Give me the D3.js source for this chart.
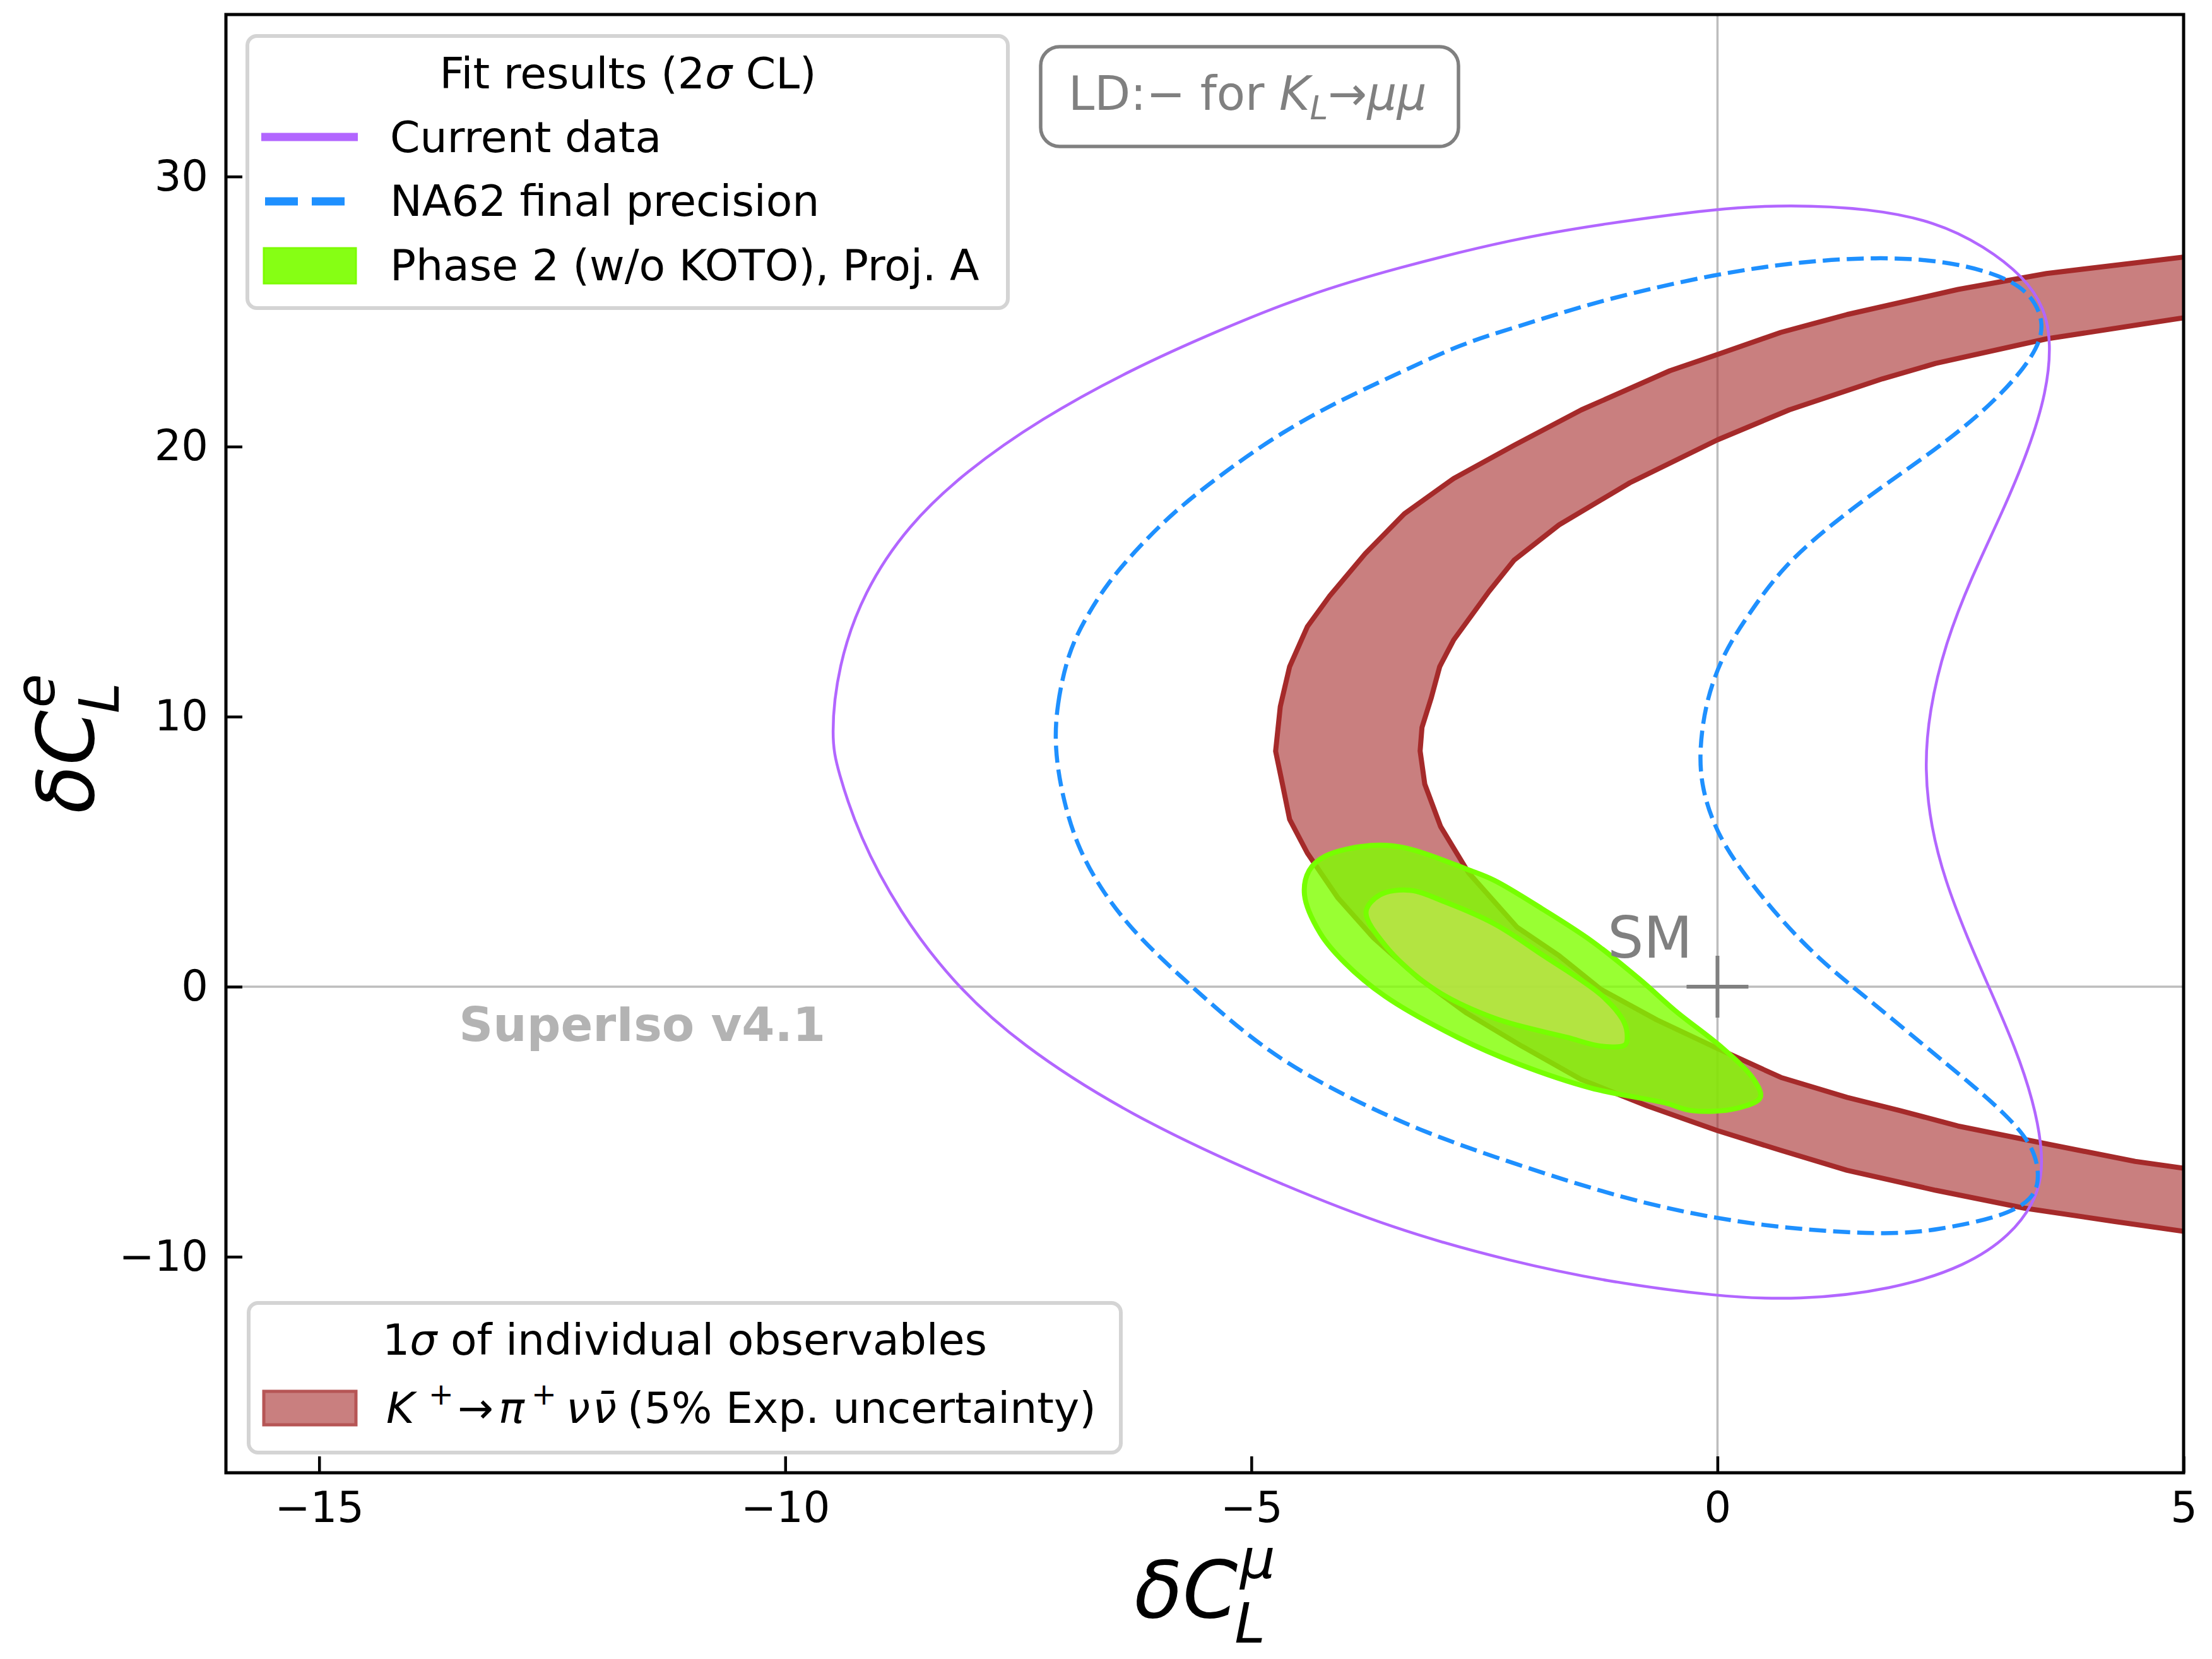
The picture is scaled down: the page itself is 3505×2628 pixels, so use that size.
<!DOCTYPE html>
<html>
<head>
<meta charset="utf-8">
<script src="https://cdnjs.cloudflare.com/ajax/libs/d3/7.8.5/d3.min.js"></script>
<style>
  body { margin: 0; background: #fff; }
  svg { display: block; }
  text { font-family: "DejaVu Sans", sans-serif; }
</style>
</head>
<body>
<div id="chart"></div>
<script>
// axis ticks
const xTicks = [-15, -10, -5, 0, 5];
const yTicks = [-10, 0, 10, 20, 30];

// 2 sigma contour, current data  [dC_mu, dC_e]
const currentData = [
  [-9.51, 9.2], [-9.44, 11.85], [-9.16, 14.64], [-8.68, 17.1], [-8.07, 19.07], [-7.26, 21.03],
  [-6.30, 22.84], [-5.35, 24.31], [-4.40, 25.63], [-3.45, 26.61], [-2.18, 27.7], [-1.22, 28.25],
  [0, 28.82], [0.77, 28.96], [1.63, 28.82], [2.34, 28.33], [2.86, 27.43], [3.29, 26.28],
  [3.51, 25.13], [3.58, 23.82], [3.53, 22.02], [3.34, 19.89], [3.06, 17.59], [2.72, 15.13],
  [2.44, 12.67], [2.27, 10.21], [2.22, 8.04], [2.29, 5.91], [2.44, 3.94], [2.68, 1.81],
  [2.91, 0.0], [3.20, -2.29], [3.39, -4.26], [3.48, -5.90], [3.48, -7.05], [3.39, -8.03],
  [3.15, -9.18], [2.68, -10.33], [1.87, -11.23], [0.87, -11.61], [0, -11.48], [-1.22, -10.9],
  [-2.18, -10.2], [-3.45, -9.02], [-4.88, -7.05], [-6.31, -4.75], [-7.49, -2.13], [-8.21, 0.17],
  [-8.78, 2.79], [-9.21, 5.58], [-9.44, 8.04]
];

// 2 sigma contour, NA62 final precision
const na62Final = [
  [-7.11, 8.9], [-7.09, 10.37], [-6.97, 12.34], [-6.78, 13.65], [-6.54, 14.97], [-6.21, 16.28],
  [-5.83, 17.59], [-5.35, 18.90], [-4.78, 20.30], [-4.16, 21.53], [-3.45, 22.67], [-2.74, 23.82],
  [-2.18, 24.40], [-1.22, 25.46], [0, 26.41], [0.91, 26.86], [1.72, 27.02], [2.39, 26.9],
  [2.96, 26.45], [3.34, 25.79], [3.51, 24.64], [3.44, 23.66], [3.20, 22.51], [2.82, 21.20],
  [2.34, 19.89], [1.72, 18.41], [1.15, 16.93], [0.68, 15.46], [0.34, 13.82], [0.06, 12.34],
  [-0.13, 10.54], [-0.20, 8.57], [-0.16, 7.3], [-0.06, 6.2], [0.08, 5.2], [0.30, 4.10],
  [0.68, 2.46], [1.15, 0.82], [1.63, -0.49], [2.20, -2.13], [2.72, -3.60], [3.10, -4.75],
  [3.39, -5.90], [3.46, -7.05], [3.39, -7.87], [3.06, -8.52], [2.34, -9.02], [1.87, -9.18],
  [0.92, -9.02], [0, -8.61], [-0.99, -7.87], [-2.18, -6.56], [-3.21, -5.33], [-4.16, -3.77],
  [-4.88, -2.29], [-5.59, -0.16], [-6.21, 1.81], [-6.59, 3.45], [-6.88, 5.25], [-7.04, 7.22]
];

// K+ -> pi+ nu nubar 1 sigma band, outer edge then inner edge
const kpBandOuter = [
  [5, 27.02], [3.53, 26.41], [2.58, 25.82], [1.39, 24.89], [0.68, 24.23], [0, 23.41],
  [-0.51, 22.81], [-1.46, 21.36], [-2.18, 20.05], [-2.83, 18.82], [-3.36, 17.51], [-3.78, 16.03],
  [-4.16, 14.47], [-4.40, 13.33], [-4.59, 11.85], [-4.69, 10.37], [-4.74, 8.72], [-4.67, 7.56],
  [-4.59, 6.2], [-4.40, 4.95], [-4.07, 3.28], [-3.69, 1.81], [-3.21, 0.33], [-2.69, -0.98],
  [-2.1, -2.2], [-1.46, -3.44], [-0.75, -4.42], [0, -5.33], [0.68, -6.06], [1.39, -6.80],
  [2.34, -7.54], [3.29, -8.20], [4.25, -8.69], [5, -9.06]
];
const kpBandInner = [
  [5, 24.77], [3.53, 23.99], [2.34, 23.08], [1.77, 22.51], [0.77, 21.36], [0, 20.25],
  [-0.94, 18.66], [-1.70, 17.10], [-2.18, 15.8], [-2.45, 14.64], [-2.83, 12.84], [-2.98, 11.85],
  [-3.07, 10.70], [-3.17, 9.6], [-3.19, 8.73], [-3.14, 7.5], [-2.97, 5.93], [-2.67, 4.22],
  [-2.15, 2.2], [-1.70, 1.15], [-1.25, -0.1], [-0.65, -1.23], [0, -2.29], [0.68, -3.36],
  [1.39, -4.10], [1.96, -4.59], [2.58, -5.16], [3.53, -5.82], [4.48, -6.47], [5, -6.72]
];

// Phase 2 (w/o KOTO), Proj. A: outer and inner regions
const phase2Outer = [
  [-4.43, 3.4], [-4.38, 4.3], [-4.21, 4.83], [-3.72, 5.23], [-3.35, 5.14], [-2.65, 4.3],
  [-2.39, 3.93], [-1.87, 2.86], [-1.35, 1.69], [-0.83, 0.26], [-0.45, -0.9], [0.06, -2.29],
  [0.39, -3.44], [0.46, -4.10], [0.20, -4.51], [-0.27, -4.59], [-0.57, -4.3], [-1.35, -3.76],
  [-2.13, -2.87], [-2.78, -1.89], [-3.56, -0.37], [-4.0, 0.89], [-4.26, 1.97]
];
const phase2Inner = [
  [-3.77, 2.77], [-3.62, 3.40], [-3.30, 3.57], [-2.91, 3.12], [-2.39, 2.32], [-1.87, 1.16],
  [-1.25, -0.3], [-1.02, -1.2], [-0.97, -1.71], [-0.99, -2.15], [-1.25, -2.2], [-1.61, -1.88],
  [-2.39, -1.17], [-3.04, -0.09], [-3.56, 1.51]
];

const W = 3505, H = 2628;
const margin = { left: 358, right: 3460, top: 23, bottom: 2333 };

const svg = d3.select("#chart").append("svg")
  .attr("width", W).attr("height", H)
  .attr("viewBox", `0 0 ${W} ${H}`);

const x = d3.scaleLinear().domain([-16, 5]).range([margin.left, margin.right]);
const y = d3.scaleLinear().domain([-18, 36]).range([margin.bottom, margin.top]);

svg.append("defs").append("clipPath").attr("id", "plotclip")
  .append("rect")
  .attr("x", margin.left).attr("y", margin.top)
  .attr("width", margin.right - margin.left).attr("height", margin.bottom - margin.top);

const plot = svg.append("g").attr("clip-path", "url(#plotclip)");

// reference lines at zero
plot.append("line")
  .attr("x1", x(0)).attr("x2", x(0)).attr("y1", margin.top).attr("y2", margin.bottom)
  .attr("stroke", "#bdbdbd").attr("stroke-width", 3.5);
plot.append("line")
  .attr("x1", margin.left).attr("x2", margin.right).attr("y1", y(0)).attr("y2", y(0))
  .attr("stroke", "#bdbdbd").attr("stroke-width", 3.5);

const lineOpen = d3.line().x(d => x(d[0])).y(d => y(d[1]));
const lineSmooth = d3.line().x(d => x(d[0])).y(d => y(d[1])).curve(d3.curveBasisClosed);
const lineBlob = d3.line().x(d => x(d[0])).y(d => y(d[1])).curve(d3.curveCatmullRomClosed.alpha(0.5));

// red band
const bandPoly = kpBandOuter.concat(kpBandInner.slice().reverse());
plot.append("path")
  .attr("d", lineOpen(bandPoly) + "Z")
  .attr("fill", "#a52a2a").attr("fill-opacity", 0.6).attr("stroke", "none");
[kpBandOuter, kpBandInner].forEach(edge => {
  plot.append("path")
    .attr("d", lineOpen(edge))
    .attr("fill", "none").attr("stroke", "#a52a2a").attr("stroke-width", 8)
    .attr("stroke-linejoin", "round");
});

// fit contours
plot.append("path")
  .attr("d", lineSmooth(currentData))
  .attr("fill", "none").attr("stroke", "#b266ff").attr("stroke-width", 4.5);
plot.append("path")
  .attr("d", lineSmooth(na62Final))
  .attr("fill", "none").attr("stroke", "#1e90ff").attr("stroke-width", 6.5)
  .attr("stroke-dasharray", "27,11");

// phase 2 projection
plot.append("path")
  .attr("d", lineBlob(phase2Outer))
  .attr("fill", "#7fff00").attr("fill-opacity", 0.8)
  .attr("stroke", "#76ff00").attr("stroke-width", 8);
plot.append("path")
  .attr("d", lineBlob(phase2Inner))
  .attr("fill", "#d8e46a").attr("fill-opacity", 0.5)
  .attr("stroke", "#76ff00").attr("stroke-width", 8);

// SM point
const pm = 49;
plot.append("path")
  .attr("d", `M${x(0) - pm},${y(0)}H${x(0) + pm}M${x(0)},${y(0) - pm}V${y(0) + pm}`)
  .attr("stroke", "#808080").attr("stroke-width", 6).attr("fill", "none");
plot.append("text")
  .attr("x", x(-1.18)).attr("y", y(1.07))
  .attr("font-size", 90).attr("fill", "#808080").text("SM");

// watermark
plot.append("text")
  .attr("x", x(-13.5)).attr("y", y(-2.0))
  .attr("font-size", 75).attr("font-weight", "bold").attr("fill", "#b3b3b3")
  .text("SuperIso v4.1");

// helper: text with italic / super / sub pieces
function richText(sel, px, py, parts, size, attrs) {
  const t = sel.append("text").attr("x", px).attr("y", py).attr("font-size", size);
  Object.entries(attrs || {}).forEach(([k, v]) => t.attr(k, v));
  let shift = 0;
  parts.forEach(p => {
    const s = p.sup ? -0.42 * size : p.sub ? 0.2 * size : 0;
    const ts = t.append("tspan").attr("dy", s - shift).text(p.t);
    shift = s;
    if (p.it) ts.attr("font-style", "italic");
    if (p.sup || p.sub) ts.attr("font-size", size * 0.7);
    if (p.x != null) ts.attr("x", p.x);
  });
  return t;
}

// legend 1
const leg1 = svg.append("g");
leg1.append("rect")
  .attr("x", 392).attr("y", 57).attr("width", 1205).attr("height", 431)
  .attr("rx", 15).attr("fill", "#fff").attr("stroke", "#d4d4d4").attr("stroke-width", 6);
richText(leg1, 995, 140, [{ t: "Fit results (2" }, { t: "σ", it: true }, { t: " CL)" }], 68,
  { "text-anchor": "middle" });
leg1.append("line").attr("x1", 414).attr("x2", 567).attr("y1", 217).attr("y2", 217)
  .attr("stroke", "#b266ff").attr("stroke-width", 13);
leg1.append("text").attr("x", 618).attr("y", 241).attr("font-size", 68).text("Current data");
leg1.append("line").attr("x1", 420).attr("x2", 546).attr("y1", 319).attr("y2", 319)
  .attr("stroke", "#1e90ff").attr("stroke-width", 13).attr("stroke-dasharray", "52,22");
leg1.append("text").attr("x", 618).attr("y", 342).attr("font-size", 68).text("NA62 final precision");
leg1.append("rect").attr("x", 418).attr("y", 393).attr("width", 146).attr("height", 56)
  .attr("fill", "#86ff14").attr("stroke", "#7cfc00").attr("stroke-width", 3);
leg1.append("text").attr("x", 618).attr("y", 444).attr("font-size", 68).text("Phase 2 (w/o KOTO), Proj. A");

// legend 2
const leg2 = svg.append("g");
leg2.append("rect")
  .attr("x", 394).attr("y", 2064).attr("width", 1382).attr("height", 237)
  .attr("rx", 15).attr("fill", "#fff").attr("stroke", "#d4d4d4").attr("stroke-width", 6);
richText(leg2, 1085, 2146, [{ t: "1" }, { t: "σ", it: true }, { t: " of individual observables" }], 68,
  { "text-anchor": "middle" });
leg2.append("rect").attr("x", 418).attr("y", 2204).attr("width", 146).attr("height", 53)
  .attr("fill", "#c97f7f").attr("stroke", "#b65555").attr("stroke-width", 5);
richText(leg2, 612, 2254, [
  { t: "K", it: true }, { t: "+", sup: true, x: 679 }, { t: "→", x: 725 },
  { t: "π", it: true, x: 790 }, { t: "+", sup: true, x: 842 }, { t: "ν", it: true, x: 897 },
  { t: "ν̄", it: true, x: 939 }, { t: "(5% Exp. uncertainty)", x: 994 }
], 68);

// LD box
const ld = svg.append("g");
ld.append("rect")
  .attr("x", 1649).attr("y", 74).attr("width", 662).attr("height", 158)
  .attr("rx", 30).attr("fill", "#fff").attr("stroke", "#808080").attr("stroke-width", 5.5);
richText(ld, 1693, 174, [
  { t: "LD:− for " }, { t: "K", it: true }, { t: "L", it: true, sub: true }, { t: "→" },
  { t: "μμ", it: true }
], 74, { fill: "#808080" });

// axes
const xAxis = svg.append("g")
  .attr("transform", `translate(0,${margin.bottom})`)
  .call(d3.axisBottom(x).tickValues(xTicks).tickSize(-26).tickPadding(30));
const yAxis = svg.append("g")
  .attr("transform", `translate(${margin.left},0)`)
  .call(d3.axisLeft(y).tickValues(yTicks).tickSize(-26).tickPadding(28));
[xAxis, yAxis].forEach(a => {
  a.select(".domain").remove();
  a.attr("font-size", 67).attr("font-family", "DejaVu Sans, sans-serif");
  a.selectAll(".tick line").attr("stroke", "#000").attr("stroke-width", 4.5);
  a.selectAll(".tick text").attr("fill", "#000");
});

// frame
svg.append("rect")
  .attr("x", margin.left).attr("y", margin.top)
  .attr("width", margin.right - margin.left).attr("height", margin.bottom - margin.top)
  .attr("fill", "none").attr("stroke", "#000").attr("stroke-width", 5);

// axis labels: delta C with stacked super/subscript, one text element each
function mathLabel(sel, base, sup, sub, size) {
  const t = sel.append("text").attr("font-size", size).attr("font-style", "italic");
  t.append("tspan").text(base);
  const s1 = t.append("tspan").attr("font-size", 0.7 * size)
    .attr("dx", 0.03 * size).attr("dy", -0.5 * size).text(sup);
  const w1 = s1.node().getComputedTextLength();
  t.append("tspan").attr("font-size", 0.7 * size)
    .attr("dx", -w1 - 0.07 * size).attr("dy", 0.82 * size).text(sub);
  const bb = t.node().getBBox();
  return bb.x + bb.width / 2;
}

const xLab = svg.append("g");
const xc = mathLabel(xLab, "δC", "μ", "L", 125);
xLab.attr("transform", `translate(${(margin.left + margin.right) / 2 - xc},2562)`);

const yLab = svg.append("g");
const yc = mathLabel(yLab, "δC", "e", "L", 125);
yLab.attr("transform", `translate(148,${(margin.top + margin.bottom) / 2 + yc}) rotate(-90)`);
</script>
</body>
</html>
